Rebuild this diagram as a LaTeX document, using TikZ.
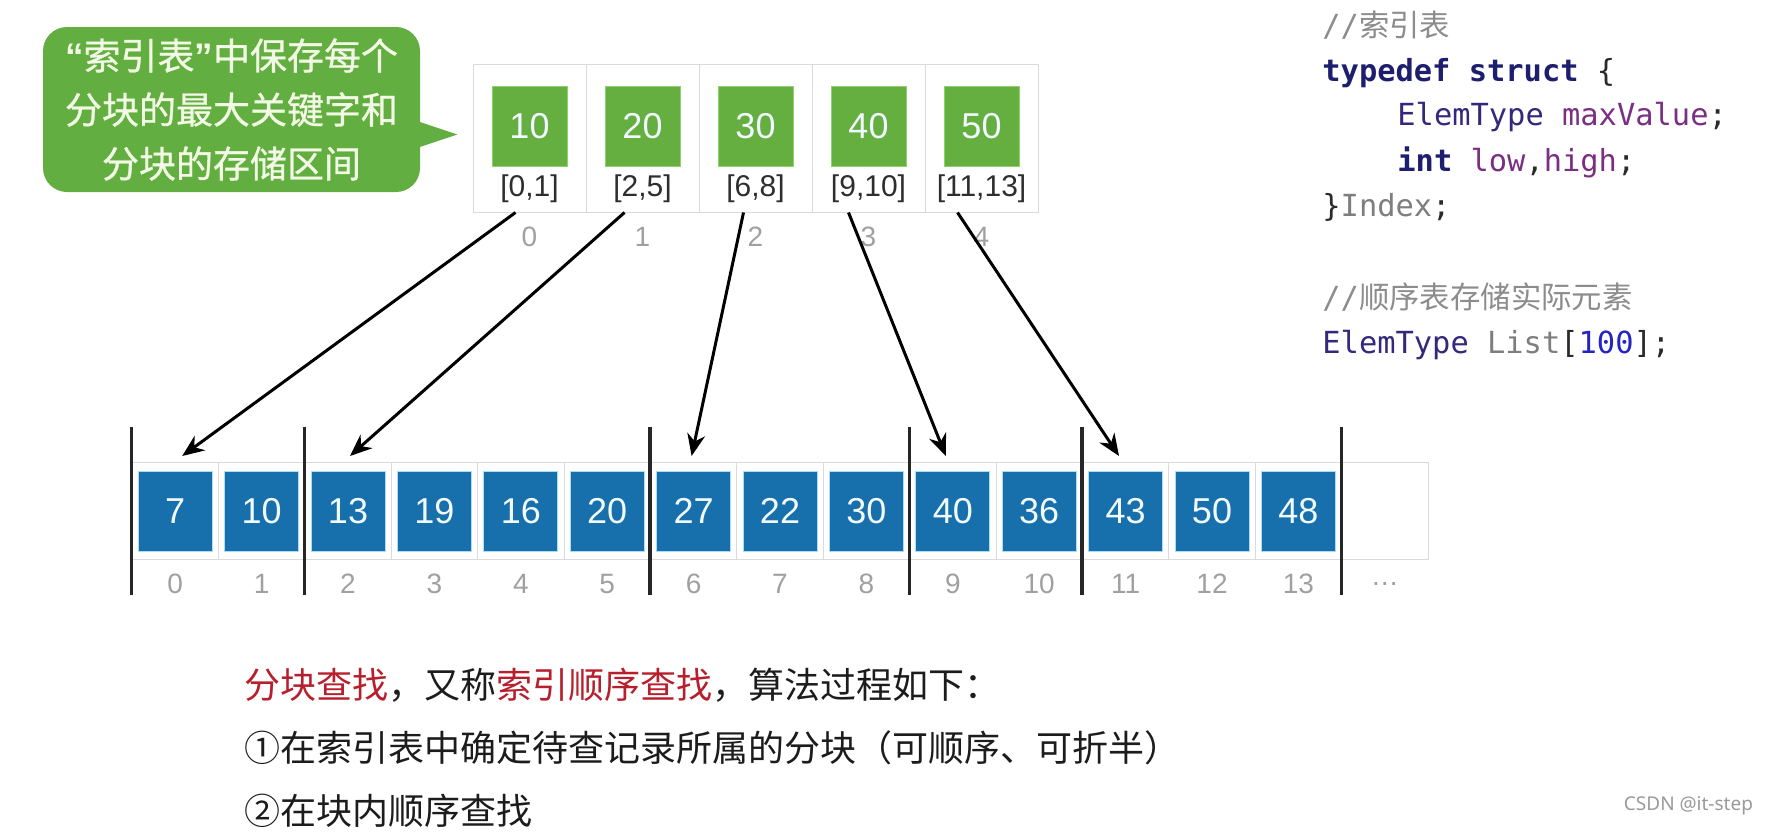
\documentclass[tikz,border=0pt]{standalone}
\usepackage{fontspec}
\setmainfont{Liberation Sans}
\setmonofont{DejaVu Sans Mono}
\newfontfamily\cjk{Noto Sans CJK SC}
\newfontfamily\cjkmed[FakeBold=0.8]{Noto Sans CJK SC}
\newfontfamily\wmfont{Noto Sans}
\usepackage{xcolor}
\usetikzlibrary{arrows.meta, calc}

\definecolor{callgreen}{HTML}{62AE40}
\definecolor{calltext}{HTML}{F2F9E4}
\definecolor{keygreen}{HTML}{64AF3F}
\definecolor{greenedge}{HTML}{8FD16A}
\definecolor{keyblue}{HTML}{176FAC}
\definecolor{blueedge}{HTML}{A8DDF2}
\definecolor{boxtext}{HTML}{F2FBFF}
\definecolor{cellgray}{HTML}{DADADA}
\definecolor{idxgray}{HTML}{A0A0A0}
\definecolor{rangedark}{HTML}{2E2E2E}
\definecolor{cmtgray}{HTML}{8C8C8C}
\definecolor{kwnavy}{HTML}{1E1E6E}
\definecolor{typepurple}{HTML}{33287A}
\definecolor{varpurple}{HTML}{7B2F83}
\definecolor{idgray}{HTML}{7E7E7E}
\definecolor{numblue}{HTML}{2424C4}
\definecolor{puncdark}{HTML}{2A2A2A}
\definecolor{keyred}{HTML}{B71F2C}
\definecolor{textdark}{HTML}{1C1C1C}
\definecolor{wmgray}{HTML}{9A9A9A}

\newcommand{\openquo}{{\rmfamily\bfseries “}}
\newcommand{\closequo}{{\rmfamily\bfseries ”}}

\tikzstyle{arrow} = [-{Stealth[length=11pt, width=9pt]}, line width=1.5pt]
\tikzstyle{callout} = [fill=callgreen, rounded corners=12pt, minimum width=188.5pt, minimum height=82.5pt, text=calltext, align=center, font=\cjkmed\fontsize{18.5pt}{27pt}\selectfont]
\tikzstyle{icell} = [draw=cellgray, line width=0.5pt, minimum width=56.5pt, minimum height=74pt, inner sep=0pt]
\tikzstyle{acell} = [draw=cellgray, line width=0.5pt, minimum width=43.2pt, minimum height=48.5pt, inner sep=0pt]
\tikzstyle{gbox} = [fill=keygreen, draw=greenedge, line width=0.4pt, minimum width=37.5pt, minimum height=40pt, inner sep=0pt, text=boxtext, font=\fontsize{18pt}{18pt}\selectfont]
\tikzstyle{bbox} = [fill=keyblue, draw=blueedge, line width=0.4pt, minimum width=37pt, minimum height=40pt, inner sep=0pt, text=boxtext, font=\fontsize{18pt}{18pt}\selectfont]
\tikzstyle{rangetxt} = [text=rangedark, inner sep=0pt, font=\fontsize{15pt}{15pt}\selectfont]
\tikzstyle{idxnum} = [text=idxgray, inner sep=0pt, font=\fontsize{14pt}{14pt}\selectfont]
\tikzstyle{sepbar} = [line width=1.6pt, draw=black!85]
\tikzstyle{codeline} = [anchor=base west, inner sep=0pt, font=\ttfamily\fontsize{15.2pt}{15.2pt}\selectfont]
\tikzstyle{desc} = [anchor=base west, inner sep=0pt, text=textdark, font=\cjk\fontsize{18pt}{18pt}\selectfont]

\begin{document}
\begin{tikzpicture}[x=0.5pt, y=-0.5pt]
  \fill[white] (0,0) rectangle (1775,835);
  \useasboundingbox (0,0) rectangle (1775,835);

  % callout
  \node[callout] (callout) at (231.5,109.5) {\openquo 索引表\closequo 中保存每个\\分块的最大关键字和\\分块的存储区间};
  \fill[callgreen] ($(callout.east)+(-2,12)$) -- ++(39,13) -- ++(-39,13) -- cycle;

  % index table
  \foreach \v/\r [count=\i from 0] in {10/{[0,1]}, 20/{[2,5]}, 30/{[6,8]}, 40/{[9,10]}, 50/{[11,13]}} {
    \node[icell] (icell\i) at (529.5+113*\i, 138) {};
    \node[gbox] (ikey\i) at (529.5+113*\i, 126) {\v};
    \node[rangetxt] (irng\i) at (529.5+113*\i, 189) {\r};
    \node[idxnum] (inum\i) at (529.5+113*\i, 237) {\i};
  }

  % list
  \foreach \i in {0,...,14}
    \node[acell] (cell\i) at (175.2+86.4*\i, 511) {};
  \foreach \v [count=\i from 0] in {7,10,13,19,16,20,27,22,30,40,36,43,50,48} {
    \node[bbox] (elem\i) at (cell\i) {\v};
    \node[idxnum] (enum\i) at (175.2+86.4*\i, 584) {\i};
  }
  \node[idxnum] (dots) at (175.2+86.4*14, 584) {\ldots};
  \foreach \k in {0,2,6,9,11,14}
    \draw[sepbar] ([yshift=17.5pt]cell\k.north west) -- ([yshift=-17.5pt]cell\k.south west);

  % block pointers
  \foreach \s/\t/\ds/\dt in {0/0/-7/3.5, 1/2/-9/1, 2/6/-6/-1, 3/9/-10/-3.5, 4/11/-12/-3.3}
    \draw[arrow] ([xshift=\ds pt]icell\s.south) -- ([xshift=\dt pt, yshift=3pt]cell\t.north);

  % code
  \node[codeline] (code1) at (1322,36) {\color{cmtgray}//{\cjk 索引表}};
  \node[codeline] (code2) at (1322,81) {\textcolor{kwnavy}{\bfseries typedef struct} \textcolor{puncdark}{\{}};
  \node[codeline] (code3) at (1397,125) {\textcolor{typepurple}{ElemType} \textcolor{varpurple}{maxValue}\textcolor{puncdark}{;}};
  \node[codeline] (code4) at (1397,171) {\textcolor{kwnavy}{\bfseries int} \textcolor{varpurple}{low}\textcolor{puncdark}{,}\textcolor{varpurple}{high}\textcolor{puncdark}{;}};
  \node[codeline] (code5) at (1322,216) {\textcolor{puncdark}{\}}\textcolor{idgray}{Index}\textcolor{puncdark}{;}};
  \node[codeline] (code6) at (1322,308) {\color{cmtgray}//{\cjk 顺序表存储实际元素}};
  \node[codeline] (code7) at (1322,353) {\textcolor{typepurple}{ElemType} \textcolor{idgray}{List}\textcolor{puncdark}{[}\textcolor{numblue}{100}\textcolor{puncdark}{];}};

  % description
  \node[desc] (step0) at (244,698) {\textcolor{keyred}{分块查找}，又称\textcolor{keyred}{索引顺序查找}，算法过程如下：};
  \node[desc] (step1) at (244,761) {①在索引表中确定待查记录所属的分块（可顺序、可折半）};
  \node[desc] (step2) at (244,824) {②在块内顺序查找};

  \node[anchor=east, text=wmgray, font=\wmfont\fontsize{9.5pt}{9.5pt}\selectfont] (mark) at (1760,806) {CSDN @it-step};
\end{tikzpicture}
\end{document}
